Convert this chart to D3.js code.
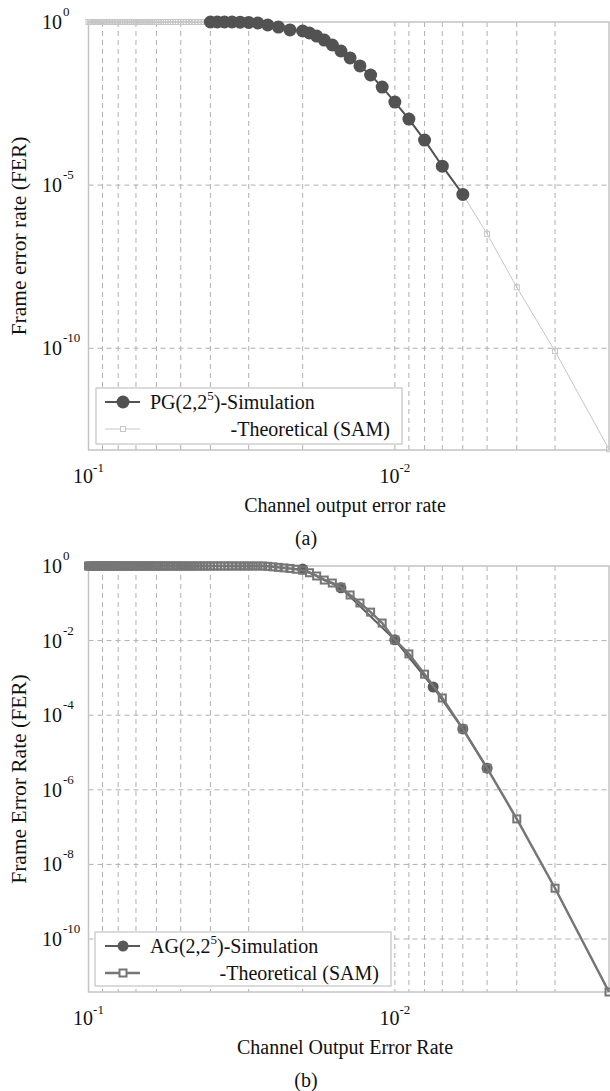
<!DOCTYPE html>
<html>
<head>
<meta charset="utf-8">
<script src="https://cdn.jsdelivr.net/npm/d3@7/dist/d3.min.js"></script>
<style>
  body { margin: 0; background: #fff; }
  text { font-family: "Liberation Serif", "Times New Roman", serif; fill: #111; }
</style>
</head>
<body>
<div id="chart"></div>
<script>
// channel output error rate, theoretical curves (step 0.001)
var pTheory = [
  0.100, 0.099, 0.098, 0.097, 0.096, 0.095, 0.094, 0.093, 0.092, 0.091,
  0.090, 0.089, 0.088, 0.087, 0.086, 0.085, 0.084, 0.083, 0.082, 0.081,
  0.080, 0.079, 0.078, 0.077, 0.076, 0.075, 0.074, 0.073, 0.072, 0.071,
  0.070, 0.069, 0.068, 0.067, 0.066, 0.065, 0.064, 0.063, 0.062, 0.061,
  0.060, 0.059, 0.058, 0.057, 0.056, 0.055, 0.054, 0.053, 0.052, 0.051,
  0.050, 0.049, 0.048, 0.047, 0.046, 0.045, 0.044, 0.043, 0.042, 0.041,
  0.040, 0.039, 0.038, 0.037, 0.036, 0.035, 0.034, 0.033, 0.032, 0.031,
  0.030, 0.029, 0.028, 0.027, 0.026, 0.025, 0.024, 0.023, 0.022, 0.021,
  0.020, 0.019, 0.018, 0.017, 0.016, 0.015, 0.014, 0.013, 0.012, 0.011,
  0.010, 0.009, 0.008, 0.007, 0.006, 0.005, 0.004, 0.003, 0.002
];

// (a) PG(2,2^5) theoretical (SAM)
var ferTheoryA = [
  1, 1, 1, 1, 1, 1, 1, 1, 1, 1,
  1, 1, 1, 1, 1, 1, 1, 1, 1, 1,
  1, 1, 1, 1, 1, 1, 1, 1, 1, 1,
  1, 1, 1, 1, 1, 1, 1, 1, 1, 1,
  1, 1, 1, 1, 1, 1, 1, 1, 1, 1,
  1, 1, 1, 1, 1, 1, 1, 1, 1, 1,
  1, 1, 1, 1, 1, 1, 1, 1, 0.99, 0.98,
  0.97, 0.95, 0.93, 0.87, 0.81, 0.76, 0.70, 0.64, 0.57, 0.55,
  0.53, 0.46, 0.37, 0.28, 0.197, 0.129, 0.079, 0.045, 0.0237, 0.0101,
  3.5e-3, 1.06e-3, 2.4e-4, 3.8e-5, 5.2e-6, 3.2e-7, 7.4e-9, 8.1e-11, 8e-14
];

// (a) PG(2,2^5) simulation
var pSimA = [0.040, 0.038, 0.036, 0.034, 0.032, 0.030, 0.028, 0.026, 0.024, 0.022,
  0.020, 0.019, 0.018, 0.017, 0.016, 0.015, 0.014, 0.013, 0.012, 0.011,
  0.010, 0.009, 0.008, 0.007, 0.006];
var ferSimA = [1, 1, 1, 1, 0.99, 0.97, 0.93, 0.81, 0.70, 0.57,
  0.53, 0.46, 0.37, 0.28, 0.197, 0.129, 0.079, 0.045, 0.0237, 0.0101,
  3.5e-3, 1.06e-3, 2.4e-4, 3.8e-5, 5.2e-6];

// (b) AG(2,2^5) theoretical (SAM)
var ferTheoryB = [
  1, 1, 1, 1, 1, 1, 1, 1, 1, 1,
  1, 1, 1, 1, 1, 1, 1, 1, 1, 1,
  1, 1, 1, 1, 1, 1, 1, 1, 1, 1,
  1, 1, 1, 1, 1, 1, 1, 1, 1, 1,
  1, 1, 1, 1, 1, 1, 1, 1, 1, 1,
  1, 1, 1, 1, 1, 1, 1, 1, 1, 1,
  1, 1, 1, 1, 1, 1, 1, 1, 1, 1,
  1, 1, 1, 1, 0.98, 0.95, 0.92, 0.89, 0.86, 0.82,
  0.77, 0.66, 0.54, 0.42, 0.35, 0.27, 0.167, 0.102, 0.058, 0.0296,
  0.0104, 4.4e-3, 1.26e-3, 2.9e-4, 4.3e-5, 3.8e-6, 1.66e-7, 2.3e-9, 3.8e-12
];

// (b) AG(2,2^5) simulation
var pSimB = [0.020, 0.015, 0.010, 0.0075, 0.006, 0.005];
var ferSimB = [0.83, 0.26, 0.0105, 5.7e-4, 4.3e-5, 3.8e-6];

// axis ticks
var xGrid = [0.09, 0.08, 0.07, 0.06, 0.05, 0.04, 0.03, 0.02, 0.01, 0.009, 0.008, 0.007, 0.006, 0.005, 0.004, 0.003];
var xTicks = [0.1, 0.01];
var xTickExp = ['-1', '-2'];
var yTicksA = [1, 1e-5, 1e-10];
var yTickExpA = ['0', '-5', '-10'];
var yTicksB = [1, 1e-2, 1e-4, 1e-6, 1e-8, 1e-10];
var yTickExpB = ['0', '-2', '-4', '-6', '-8', '-10'];

var width = 610, height = 1091;
var svg = d3.select('#chart').append('svg')
  .attr('width', width)
  .attr('height', height);

var left = 88.5, right = 609;

function zip(xs, ys) {
  return xs.map(function(x, i) { return [x, ys[i]]; });
}

function drawPanel(cfg) {
  var x = d3.scaleLog().domain([0.1, 0.002]).range([left, right]);
  var y = d3.scaleLog().domain(cfg.yDomain).range([cfg.bottom, cfg.top]);
  var g = svg.append('g');

  // grid
  g.selectAll('.vgrid').data(xGrid).enter().append('line')
    .attr('x1', function(d) { return x(d); })
    .attr('x2', function(d) { return x(d); })
    .attr('y1', cfg.top).attr('y2', cfg.bottom)
    .attr('stroke', '#b0b0b0').attr('stroke-width', 1)
    .attr('stroke-dasharray', '5,4');
  g.selectAll('.hgrid').data(cfg.yTicks.slice(1)).enter().append('line')
    .attr('x1', left).attr('x2', right)
    .attr('y1', function(d) { return y(d); })
    .attr('y2', function(d) { return y(d); })
    .attr('stroke', '#b0b0b0').attr('stroke-width', 1)
    .attr('stroke-dasharray', '5,4');

  // frame
  g.append('rect')
    .attr('x', left).attr('y', cfg.top)
    .attr('width', right - left).attr('height', cfg.bottom - cfg.top)
    .attr('fill', 'none').attr('stroke', '#c4c4c4').attr('stroke-width', 1.5);

  // y tick labels
  cfg.yTicks.forEach(function(t, i) {
    g.append('text').attr('x', 62).attr('y', y(t) + 7)
      .attr('text-anchor', 'end').attr('font-size', 20).text('10');
    g.append('text').attr('x', 63).attr('y', y(t) - 6)
      .attr('font-size', 13).text(cfg.yTickExp[i]);
  });

  // x tick labels
  xTicks.forEach(function(t, i) {
    var tx = g.append('text').attr('x', x(t)).attr('y', cfg.bottom + 33)
      .attr('text-anchor', 'middle').attr('font-size', 20);
    tx.append('tspan').text('10');
    tx.append('tspan').attr('dy', -11).attr('font-size', 13).text(xTickExp[i]);
  });

  // axis titles
  g.append('text')
    .attr('transform', 'translate(26,' + ((cfg.top + cfg.bottom) / 2) + ') rotate(-90)')
    .attr('text-anchor', 'middle').attr('font-size', 21.5).text(cfg.yTitle);
  g.append('text').attr('x', 345).attr('y', cfg.bottom + 62)
    .attr('text-anchor', 'middle').attr('font-size', 20).text(cfg.xTitle);
  g.append('text').attr('x', 306).attr('y', cfg.bottom + 95)
    .attr('text-anchor', 'middle').attr('font-size', 20).text(cfg.caption);

  var line = d3.line()
    .x(function(d) { return x(d[0]); })
    .y(function(d) { return y(d[1]); });

  function drawTheory() {
    var s = cfg.theory;
    g.append('path').datum(zip(pTheory, s.values))
      .attr('d', line).attr('fill', 'none')
      .attr('stroke', s.color).attr('stroke-width', s.lineWidth);
    g.selectAll('.sq' + cfg.id).data(zip(pTheory, s.values)).enter().append('rect')
      .attr('x', function(d) { return x(d[0]) - s.size / 2; })
      .attr('y', function(d) { return y(d[1]) - s.size / 2; })
      .attr('width', s.size).attr('height', s.size)
      .attr('fill', 'none').attr('stroke', s.color).attr('stroke-width', s.markWidth);
  }
  function drawSim() {
    var s = cfg.sim;
    g.append('path').datum(zip(s.p, s.values))
      .attr('d', line).attr('fill', 'none')
      .attr('stroke', s.color).attr('stroke-width', 2);
    g.selectAll('.dot' + cfg.id).data(zip(s.p, s.values)).enter().append('circle')
      .attr('cx', function(d) { return x(d[0]); })
      .attr('cy', function(d) { return y(d[1]); })
      .attr('r', s.r).attr('fill', s.color);
  }
  if (cfg.simOnTop) { drawTheory(); drawSim(); } else { drawSim(); drawTheory(); }

  // legend
  var L = cfg.legend;
  g.append('rect').attr('x', L.x).attr('y', L.y).attr('width', L.w).attr('height', L.h)
    .attr('fill', '#fff').attr('stroke', '#c4c4c4').attr('stroke-width', 1.2);
  var y1 = L.y + 14, y2 = L.y + 41;
  g.append('line').attr('x1', 105).attr('x2', 140).attr('y1', y1).attr('y2', y1)
    .attr('stroke', cfg.sim.color).attr('stroke-width', 2);
  g.append('circle').attr('cx', 123).attr('cy', y1).attr('r', cfg.sim.r).attr('fill', cfg.sim.color);
  g.append('line').attr('x1', 105).attr('x2', 140).attr('y1', y2).attr('y2', y2)
    .attr('stroke', cfg.theory.color).attr('stroke-width', cfg.theory.lineWidth);
  g.append('rect').attr('x', 123 - cfg.theory.size / 2).attr('y', y2 - cfg.theory.size / 2)
    .attr('width', cfg.theory.size).attr('height', cfg.theory.size)
    .attr('fill', '#fff').attr('stroke', cfg.theory.color).attr('stroke-width', cfg.theory.markWidth);
  var t1 = g.append('text').attr('x', 150).attr('y', y1 + 7).attr('font-size', 20);
  t1.append('tspan').text(L.name + '(2,2');
  t1.append('tspan').attr('dy', -9).attr('font-size', 13).text('5');
  t1.append('tspan').attr('dy', 9).text(')-Simulation');
  g.append('text').attr('x', L.x + L.w - 12).attr('y', y2 + 7)
    .attr('text-anchor', 'end').attr('font-size', 20).text('-Theoretical (SAM)');
}

drawPanel({
  id: 'a', top: 22, bottom: 450, yDomain: [7.6e-14, 1],
  yTicks: yTicksA, yTickExp: yTickExpA,
  yTitle: 'Frame error rate (FER)', xTitle: 'Channel output error rate', caption: '(a)',
  theory: { values: ferTheoryA, color: '#c6c6c6', lineWidth: 1, size: 5, markWidth: 1 },
  sim: { p: pSimA, values: ferSimA, color: '#525252', r: 6.5 },
  simOnTop: true,
  legend: { x: 96, y: 388, w: 306, h: 56, name: 'PG' }
});

drawPanel({
  id: 'b', top: 566, bottom: 992, yDomain: [3.8e-12, 1],
  yTicks: yTicksB, yTickExp: yTickExpB,
  yTitle: 'Frame Error Rate (FER)', xTitle: 'Channel Output Error Rate', caption: '(b)',
  theory: { values: ferTheoryB, color: '#767676', lineWidth: 2.5, size: 7, markWidth: 2 },
  sim: { p: pSimB, values: ferSimB, color: '#595959', r: 5.5 },
  simOnTop: false,
  legend: { x: 95, y: 932, w: 296, h: 54, name: 'AG' }
});
</script>
</body>
</html>
